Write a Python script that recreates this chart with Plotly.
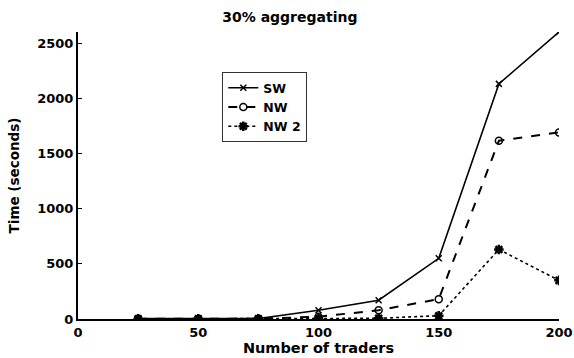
import plotly.graph_objects as go

# Number of traders
traders = [25, 50, 75, 100, 125, 150, 175, 200]

# Run times (seconds)
sw = [3, 3, 4, 80, 170, 550, 2130, 2600]
nw = [2, 2, 3, 20, 80, 180, 1615, 1690]
nw2 = [1, 1, 2, 4, 6, 30, 630, 350]

tick_x = [0, 50, 100, 150, 200]
tick_y = [0, 500, 1000, 1500, 2000, 2500]

font_family = "DejaVu Sans, Liberation Sans, Arial, sans-serif"

fig = go.Figure()
fig.add_trace(go.Scatter(
    x=traders, y=sw, name="SW", mode="lines+markers",
    line=dict(color="black", width=1.6, dash="solid"),
    marker=dict(symbol="x-thin-open", size=6, color="black", line=dict(width=1.5, color="black")),
))
fig.add_trace(go.Scatter(
    x=traders, y=nw, name="NW", mode="lines+markers",
    line=dict(color="black", width=2, dash="dash"),
    marker=dict(symbol="circle-open", size=7, color="black", line=dict(width=1.5, color="black")),
))
fig.add_trace(go.Scatter(
    x=traders, y=nw2, name="NW 2", mode="lines+markers",
    line=dict(color="black", width=1.6, dash="dot"),
    marker=dict(symbol="asterisk-open", size=8, color="black", line=dict(width=2.5, color="black")),
))

fig.update_layout(
    width=574, height=358,
    margin=dict(l=78, r=15, t=32, b=39),
    paper_bgcolor="white", plot_bgcolor="white",
    font=dict(family=font_family, size=13, color="black", weight="bold"),
    title=dict(text="30% aggregating", x=0.505, xanchor="center",
               y=0.953, yanchor="middle",
               font=dict(size=14, weight="bold")),
    showlegend=True,
    legend=dict(x=0.3, y=0.86, xanchor="left", yanchor="top",
                bgcolor="white", bordercolor="#333", borderwidth=1,
                font=dict(size=12.5, weight="bold"), tracegroupgap=0, itemwidth=30),
)
fig.update_xaxes(
    range=[0, 200], tickvals=tick_x, automargin=False,
    tickfont=dict(size=13, weight="bold"),
    showline=True, linecolor="black", linewidth=2, mirror=False,
    ticks="inside", ticklen=4, tickcolor="black", showgrid=False, zeroline=False,
    title=dict(text="Number of traders", standoff=0, font=dict(size=14.5, weight="bold")),
)
fig.update_yaxes(
    range=[0, 2600], tickvals=tick_y, automargin=False,
    tickfont=dict(size=13, weight="bold"),
    showline=True, linecolor="black", linewidth=2, mirror=False,
    ticks="inside", ticklen=4, tickcolor="black", showgrid=False, zeroline=False,
    title=dict(text="Time (seconds)", standoff=14, font=dict(size=13.5, weight="bold")),
)

fig.write_html("out.html")
